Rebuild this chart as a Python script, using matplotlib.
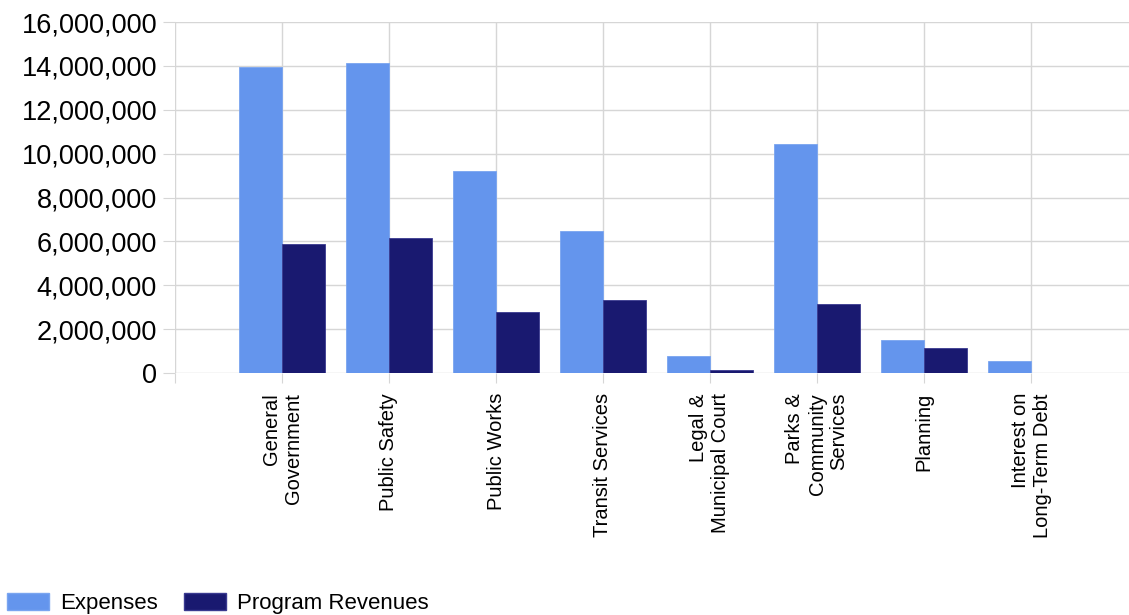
import matplotlib
matplotlib.use("Agg")
import matplotlib.pyplot as plt
import numpy as np
from matplotlib.patches import Patch
from matplotlib.ticker import FuncFormatter

plt.rcParams["font.family"] = ["Liberation Sans", "DejaVu Sans"]

categories = [
    "General\nGovernment", "Public Safety", "Public Works", "Transit Services",
    "Legal &\nMunicipal Court", "Parks &\nCommunity\nServices", "Planning",
    "Interest on\nLong-Term Debt",
]
expenses = [13950000, 14130000, 9210000, 6470000, 790000, 10440000, 1520000, 530000]
program_revenues = [5880000, 6150000, 2780000, 3330000, 150000, 3160000, 1150000, 0]

EXP_COLOR = "#6495ED"
REV_COLOR = "#191970"
GRID = "#d6d6d6"
PX = 0.72  # points per pixel at dpi 100

fig = plt.figure(figsize=(11.29, 6.15), dpi=100)
# right edge runs past the figure, as in the reference
ax = fig.add_axes([175 / 1129, 1 - 373 / 615, (1138 - 175) / 1129, (373 - 22) / 615])

x = np.arange(len(categories))
w = 0.4
ax.bar(x - w / 2, expenses, w, color=EXP_COLOR, edgecolor="#7aa5f0", linewidth=0.6, zorder=3)
ax.bar(x + w / 2, program_revenues, w, color=REV_COLOR, edgecolor="#3a3a90", linewidth=0.6, zorder=3)

ax.set_xlim(-1, len(categories))
ax.set_ylim(0, 16000000)
ax.set_yticks(np.arange(0, 16000001, 2000000))
ax.yaxis.set_major_formatter(FuncFormatter(lambda v, _: f"{int(v):,}"))

ax.set_xticks(np.arange(-1, len(categories)))
ax.set_xticklabels([""] + categories, rotation=90, ha="center", va="top",
                   multialignment="right", fontsize=14.5)

ax.grid(True, color=GRID, linewidth=1, zorder=0)
for s in ax.spines.values():
    s.set_visible(False)
ax.tick_params(axis="y", length=12 * PX, color=GRID, labelsize=19.5, pad=6 * PX)
ax.tick_params(axis="x", length=10 * PX, color=GRID, pad=10 * PX)

handles = [Patch(facecolor=EXP_COLOR, edgecolor="#7aa5f0"),
           Patch(facecolor=REV_COLOR, edgecolor="#3a3a90")]
fig.legend(handles, ["Expenses", "Program Revenues"], loc="lower left",
           bbox_to_anchor=(7 / 1129, 1 / 615), ncol=2, frameon=False, fontsize=16,
           handlelength=1.9, handleheight=0.81, handletextpad=0.5,
           columnspacing=1.17, borderaxespad=0, borderpad=0)

fig.savefig("out.png", dpi=100)
